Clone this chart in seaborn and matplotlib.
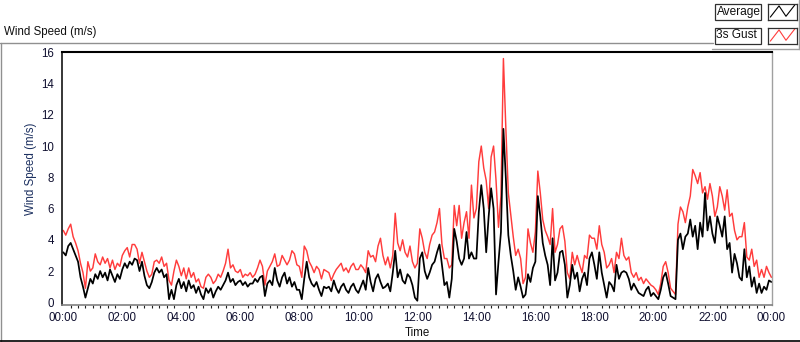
import numpy as np
import pandas as pd
import matplotlib
matplotlib.use("Agg")
import matplotlib.pyplot as plt
import seaborn as sns
from matplotlib.lines import Line2D
from matplotlib.patches import Rectangle

# wind speed (m/s), one sample every 5 minutes, 00:00 -> 24:00
avg_speed = [
    3.2, 3.0, 3.6, 3.8, 3.4, 3.0, 2.6, 1.6, 1.0, 0.3, 0.9, 1.5,
    1.2, 1.8, 1.5, 2.0, 1.6, 1.9, 1.4, 2.1, 1.7, 1.3, 1.8, 1.5,
    2.1, 2.5, 2.2, 2.6, 2.4, 2.8, 2.7, 2.0, 2.6, 1.7, 1.1, 0.9,
    1.3, 1.9, 2.2, 1.9, 2.1, 1.6, 1.8, 0.2, 0.8, 0.2, 1.1, 1.5,
    0.9, 1.3, 0.7, 1.4, 0.9, 1.1, 0.6, 1.0, 0.5, 0.2, 0.9, 0.6,
    0.9, 0.3, 0.7, 1.0, 0.8, 1.1, 1.4, 1.9, 1.3, 1.5, 1.1, 1.3,
    1.4, 1.1, 1.3, 1.0, 1.2, 1.2, 1.5, 1.3, 1.6, 1.7, 0.4, 1.2,
    1.4, 1.1, 2.2, 1.4, 1.0, 1.6, 1.9, 1.2, 1.6, 1.0, 1.3, 0.8,
    0.8, 0.2, 1.5, 2.6, 1.6, 1.2, 1.0, 1.3, 0.8, 0.4, 1.0, 0.9,
    1.0, 0.7, 1.4, 0.9, 0.6, 1.0, 1.2, 0.8, 0.6, 1.0, 1.2, 0.8,
    0.6, 1.0, 1.4, 0.8, 2.2, 1.3, 0.7, 1.5, 1.8, 1.3, 0.9, 1.0,
    1.2, 0.7, 1.9, 3.3, 1.6, 2.1, 1.4, 1.2, 1.8, 1.6, 1.1, 0.3,
    0.1, 2.8, 3.2, 2.0, 1.5, 1.9, 2.4, 2.6, 3.2, 3.7, 2.4, 1.1,
    1.3, 0.3, 1.5, 4.7, 3.9, 2.8, 2.4, 2.8, 4.5, 2.8, 3.2, 2.8,
    2.8, 5.8, 7.5, 6.0, 3.2, 5.5, 7.3, 6.0, 0.5, 2.6, 4.5, 11.1,
    7.9, 4.3, 3.0, 2.0, 0.8, 1.6, 1.0, 0.3, 0.5, 1.8, 1.3, 2.2,
    2.6, 6.8, 5.5, 3.8, 3.0, 2.4, 1.1, 4.1, 1.4, 1.9, 3.2, 3.3,
    2.4, 0.3, 1.1, 2.4, 1.5, 1.9, 0.7, 1.5, 1.9, 1.1, 2.8, 3.2,
    2.4, 1.5, 3.2, 1.9, 1.1, 0.3, 1.3, 1.1, 0.7, 2.4, 1.5, 1.9,
    2.0, 1.9, 1.5, 0.8, 1.2, 0.9, 0.6, 0.5, 0.4, 0.8, 1.0, 0.4,
    0.6, 0.4, 0.2, 0.8, 1.6, 1.9, 1.2, 0.4, 0.3, 0.2, 4.0, 4.4,
    3.4, 4.2, 4.4, 5.3, 4.2, 4.9, 3.4, 5.1, 4.2, 7.0, 4.6, 5.5,
    4.4, 3.8, 5.5, 4.9, 4.2, 5.5, 3.4, 3.8, 1.9, 3.1, 2.5, 1.6,
    1.4, 3.4, 1.6, 2.3, 1.0, 1.6, 0.6, 1.2, 0.6, 1.0, 0.8, 1.4,
    1.3,
]
gust_speed = [
    4.6, 4.3, 4.7, 5.0, 4.2, 3.8, 3.3, 2.5, 1.9, 0.9, 2.6, 2.0,
    2.2, 3.1, 2.6, 2.4, 2.9, 2.5, 2.8, 2.2, 2.7, 2.1, 2.5, 2.3,
    3.0, 3.3, 3.5, 2.9, 3.7, 3.7, 3.4, 2.5, 3.2, 2.6, 2.0, 1.6,
    1.8, 2.6, 2.7, 2.5, 2.9, 2.3, 2.5, 1.4, 1.1, 2.0, 2.7, 2.3,
    1.7, 2.2, 1.5, 2.2, 1.6, 1.9, 1.3, 1.5, 1.0, 0.9, 1.6, 1.8,
    1.6, 1.2, 1.4, 1.8, 1.6, 2.0, 2.5, 3.4, 2.2, 2.4, 2.0, 1.9,
    2.1, 1.6, 1.8, 1.7, 1.9, 1.6, 1.8, 2.2, 2.7, 2.3, 1.1, 2.0,
    2.3, 2.6, 3.1, 2.3, 2.4, 3.0, 2.7, 2.4, 2.7, 3.3, 3.1, 2.4,
    2.3, 1.6, 3.6, 3.3, 2.6, 2.3, 1.9, 2.3, 2.1, 1.5, 2.1, 2.0,
    1.9, 1.4, 1.8, 2.1, 2.3, 2.5, 2.0, 2.2, 1.9, 2.3, 2.5, 2.1,
    2.1, 2.4, 2.2, 1.9, 3.3, 2.9, 3.0, 2.6, 3.6, 4.1, 3.0, 2.4,
    2.9, 2.2, 3.0, 5.7, 3.8, 3.3, 4.0, 3.2, 2.9, 3.6, 2.6, 2.2,
    2.5, 4.7, 4.1, 3.2, 2.8, 3.7, 4.3, 4.5, 5.1, 6.0, 3.7, 2.8,
    2.8, 2.2, 2.4, 6.2, 4.9, 6.2, 4.1, 5.1, 5.8, 4.1, 7.5, 5.4,
    6.0, 9.0, 10.0, 8.6, 7.8, 6.0, 9.3, 10.0, 7.8, 4.8, 6.8, 15.6,
    11.1, 7.0, 5.6, 4.2, 3.0, 3.4, 2.8, 1.2, 1.6, 4.7, 3.8, 3.2,
    4.5, 8.4, 7.0, 5.3, 4.6, 4.2, 3.7, 6.0, 3.2, 3.7, 4.7, 4.9,
    3.9, 1.9, 1.5, 3.2, 2.4, 3.0, 2.4, 1.9, 3.0, 2.8, 4.3, 4.1,
    4.1, 3.4, 4.9, 3.7, 3.2, 2.2, 2.4, 2.8, 1.9, 3.2, 2.8, 4.1,
    3.0, 2.7, 2.9, 1.9, 1.6, 1.9, 1.4, 1.6, 1.2, 1.5, 1.3, 1.1,
    1.0, 0.8, 0.5, 1.2, 2.3, 2.6, 1.9, 0.9, 0.7, 0.5, 5.0, 6.1,
    5.8, 5.1, 6.1, 6.8, 8.5, 8.1, 7.6, 8.3, 7.0, 7.4, 6.6, 7.6,
    6.8, 5.5, 6.1, 7.4, 6.8, 5.9, 7.2, 5.5, 5.7, 4.6, 4.0, 4.2,
    4.2, 5.1, 2.9, 2.7, 3.4, 2.3, 2.7, 1.6, 2.1, 1.6, 2.3, 1.9,
    1.6,
]
sample_minutes = 5
tick_labels = ["00:00", "02:00", "04:00", "06:00", "08:00", "10:00", "12:00",
               "14:00", "16:00", "18:00", "20:00", "22:00", "00:00"]
series_names = ["Average", "3s Gust"]
series_colors = ["#000000", "#ff3c3c"]

hours = np.arange(len(avg_speed)) * sample_minutes / 60
df = pd.DataFrame({"hour": hours, "Average": avg_speed, "3s Gust": gust_speed})

sns.set_style("white")
plt.rcParams["font.family"] = ["Liberation Sans", "DejaVu Sans"]
plt.rcParams["font.size"] = 8

W, H = 800, 342
fig = plt.figure(figsize=(W / 100, H / 100), dpi=100)


def fx(px):
    return px / W


def fy(py):
    return 1 - py / H


# plot area 62..772 px wide, 52..304.5 px tall
ax = fig.add_axes([fx(62), fy(304.5), fx(710), 252.5 / H])

sns.lineplot(data=df, x="hour", y="3s Gust", color=series_colors[1], lw=1.05, ax=ax)
sns.lineplot(data=df, x="hour", y="Average", color=series_colors[0], lw=1.25, ax=ax)

ax.set_xlim(-0.044, 24.02)
ax.set_ylim(-0.14, 16.02)
ax.set_xticks(np.arange(0, 25, 2))
ax.set_xticklabels(tick_labels)
ax.set_xticks(np.arange(0, 24.01, 0.25), minor=True)
ax.set_yticks(np.arange(0, 17, 2))
ax.tick_params(axis="both", which="major", direction="out", length=4.2, width=0.8,
               color="#202020", labelcolor="#101030", labelsize=8.3, pad=1.5)
ax.tick_params(axis="x", which="minor", direction="out", length=2.4, width=0.8,
               color="#202020", bottom=True)
ax.tick_params(axis="y", which="major", pad=1.5)

ax.set_xlabel("Time", fontsize=8.3, color="#101010", labelpad=2)
ax.set_ylabel("Wind Speed (m/s)", fontsize=8.3, color="#1c3060")
ax.yaxis.set_label_coords(-0.035, 0.539)

for side in ["top", "left", "right", "bottom"]:
    ax.spines[side].set_visible(True)
ax.spines["top"].set_color("black")
ax.spines["top"].set_linewidth(1.5)
ax.spines["left"].set_color("black")
ax.spines["left"].set_linewidth(1.1)
ax.spines["right"].set_color("#a0a0a0")
ax.spines["right"].set_linewidth(1.0)
ax.spines["bottom"].set_color("#808080")
ax.spines["bottom"].set_linewidth(1.2)

# chart title at top left
fig.text(fx(4), fy(32), "Wind Speed (m/s)", fontsize=8.3, color="#101010",
         ha="left", va="center")

# panel frame lines
def hline(y, x0, x1, color, lw):
    fig.add_artist(Line2D([fx(x0), fx(x1)], [fy(y), fy(y)], color=color, lw=lw,
                          transform=fig.transFigure))


def vline(x, y0, y1, color, lw):
    fig.add_artist(Line2D([fx(x), fx(x)], [fy(y0), fy(y1)], color=color, lw=lw,
                          transform=fig.transFigure))


hline(42.5, 0, 713, "#909090", 1.0)
vline(0.8, 42.5, 341, "#909090", 1.0)
hline(340.8, 0, 800, "#000000", 1.2)
hline(48.5, 712, 800, "#a0a0a0", 1.0)
vline(799, 0, 48.5, "#a0a0a0", 1.0)

# legend: name box + line icon box
legend_rows = [(3.5, 19.5), (27.5, 43.5)]
for (y0, y1), name, col in zip(legend_rows, series_names, series_colors):
    fig.add_artist(Rectangle((fx(715), fy(y1)), fx(46), (y1 - y0) / H,
                             fc="white", ec="#303030", lw=0.9,
                             transform=fig.transFigure))
    fig.text(fx(716.5), fy((y0 + y1) / 2), name, fontsize=8.6, color="#101010",
             ha="left", va="center")
    icon = fig.add_axes([fx(768), fy(y1), fx(29), (y1 - y0) / H])
    icon.plot([0.08, 0.38, 0.62, 0.92], [0.15, 0.85, 0.2, 0.9], color=col, lw=0.8)
    icon.set_xlim(0, 1)
    icon.set_ylim(0, 1)
    icon.set_xticks([])
    icon.set_yticks([])
    for s in icon.spines.values():
        s.set_color("#303030")
        s.set_linewidth(0.9)

fig.savefig("out.png", dpi=100)
